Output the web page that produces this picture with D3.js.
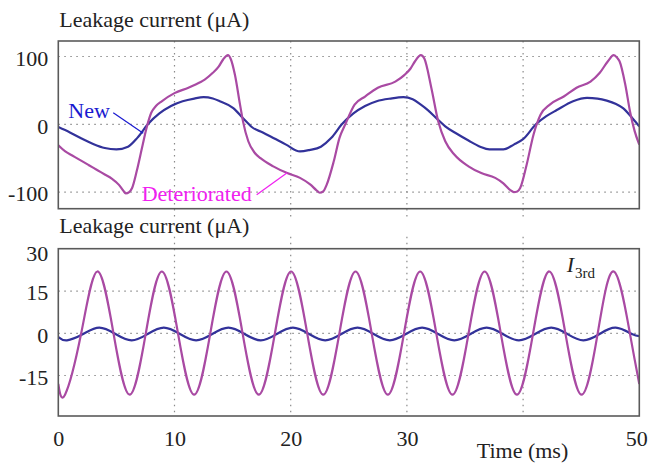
<!DOCTYPE html>
<html>
<head>
<meta charset="utf-8">
<script src="https://cdn.jsdelivr.net/npm/d3@7"></script>
<style>
  body { margin: 0; background: #fff; }
  text { font-family: "Liberation Serif", "Times New Roman", serif; fill: #222; }
</style>
</head>
<body>
<div id="chart"></div>
<script>
// 축 눈금
const timeTicks = [0, 10, 20, 30, 50];
const gridTimes = [10, 20, 30, 40];
const topYTicks = [100, 0, -100];
const bottomYTicks = [30, 15, 0, -15];
const bottomGrid = [15, 0, -15];

// 상단: 누설전류 (New)
const newTime = [0, 1, 2, 3, 4, 5, 6, 6.8, 7.7, 8.7, 9.7, 10.7, 11.7, 12.5, 13.3, 13.9, 15.06, 15.9, 16.3,
  16.65, 17.6, 18.6, 19.6, 20.8, 21.6, 22.6, 23.5, 24.4, 25.4, 26.4, 27.4, 28.6, 29.7, 30.5, 31.2, 31.8, 32.6,
  33.3, 34.3, 35.3, 36.3, 37.1, 38.3, 39.2, 40.0, 41.1, 42.0, 42.9, 44.3, 45.5, 46.4, 47.2, 48.0, 48.6, 49.5, 50];
const newValues = [-4, -12, -21, -29, -35, -37, -33, -20, 0, 16, 27, 34, 38, 40, 38, 34, 24, 9, 2,
  -4, -12, -21, -30, -40, -38, -33, -20, 0, 16, 27, 34, 38, 40, 37, 29, 21, 8,
  -3, -14, -24, -33, -37, -37, -30, -22, 0, 12, 21, 34, 39, 38, 35, 30, 24, 7, -3];

// 상단: 누설전류 (Deteriorated)
const detTime = [0, 0.6, 1.2, 2.0, 2.6, 3.3, 4.0, 4.6, 5.2, 5.6, 5.8, 6.1, 6.35, 6.75, 7.2, 7.6, 8.0, 8.4, 8.9,
  10.0, 11.2, 12.2, 12.6, 13.3, 13.8, 14.2, 14.6, 14.85, 15.2, 15.64, 15.9, 16.35, 16.9, 17.4, 18.5, 19.7,
  20.8, 21.7, 22.2, 22.5, 22.8, 23.1, 23.7, 24.2, 24.7, 25.5, 26.4, 27.5, 29.0, 29.8, 30.3, 30.7, 31.2, 31.5,
  32.1, 32.7, 33.3, 34.1, 35.3, 36.4, 37.6, 38.3, 38.9, 39.2, 39.5, 39.75, 40.3, 40.9, 41.5, 42.3, 43.5,
  44.6, 45.8, 46.6, 47.3, 47.8, 48.1, 48.3, 48.8, 49.2, 49.6, 50];
const detValues = [-31, -40, -46, -54, -60, -67, -74, -80, -89, -98, -102, -100, -94, -69, -35, -5, 17, 27, 34,
  46, 54, 62, 66, 76, 85, 96, 102, 96, 73, 29, 4, -25, -42, -50, -62, -72,
  -79, -89, -97, -101, -99, -89, -55, -20, 0, 29, 41, 54, 63, 73, 82, 93, 102, 97,
  54, 4, -25, -45, -62, -72, -79, -87, -97, -100, -99, -94, -60, -15, 14, 29, 41,
  54, 63, 76, 93, 102, 98, 93, 58, 19, -10, -30];

// 하단: 3고조파 성분 (New)
const new3rdTime = [0, 0.75, 2.14, 3.53, 4.92, 6.31, 7.69, 9.08, 10.47, 11.86, 13.25, 14.64, 16.03, 17.42,
  18.80, 20.19, 21.58, 22.97, 24.36, 25.75, 27.14, 28.53, 29.92, 31.31, 32.69, 34.08, 35.47, 36.86, 38.25,
  39.64, 41.03, 42.42, 43.81, 45.19, 46.58, 47.97, 49.36, 50];
const new3rdValues = [-1.3, -2.5, -0.25, 2.0, -0.25, -2.5, -0.25, 2.0, -0.25, -2.5, -0.25, 2.0, -0.25, -2.5,
  -0.25, 2.0, -0.25, -2.5, -0.25, 2.0, -0.25, -2.5, -0.25, 2.0, -0.25, -2.5, -0.25, 2.0, -0.25,
  -2.5, -0.25, 2.0, -0.25, -2.5, -0.25, 2.0, -0.25, -1.0];

// 하단: 3고조파 성분 (Deteriorated)
const det3rdTime = [0, 0.58, 1.97, 3.36, 4.75, 6.14, 7.53, 8.91, 10.30, 11.69, 13.08, 14.47, 15.86, 17.25,
  18.64, 20.03, 21.42, 22.80, 24.19, 25.58, 26.97, 28.36, 29.75, 31.14, 32.53, 33.92, 35.31, 36.69, 38.08,
  39.47, 40.86, 42.25, 43.64, 45.03, 46.42, 47.80, 49.19, 50];
const det3rdValues = [-18, -21.8, 0, 22, 0, -21.8, 0, 22, 0, -21.8, 0, 22, 0, -21.8,
  0, 22, 0, -21.8, 0, 22, 0, -21.8, 0, 22, 0, -21.8, 0, 22, 0,
  -21.8, 0, 22, 0, -21.8, 0, 22, 0, -18];

const colorNew = "#32329a";
const colorDet = "#a94aa3";

const width = 649;
const height = 466;
const fontSize = 22;

const svg = d3.select("#chart")
  .append("svg")
  .attr("width", width)
  .attr("height", height);

const x = d3.scaleLinear().domain([0, 50]).range([58.3, 639.3]);
const yTop = d3.scaleLinear().domain([-124.5, 122.9]).range([208.7, 41]);
const yBot = d3.scaleLinear().domain([-29.4, 30.1]).range([416, 248.7]);

// 패널 그리기 함수
function drawPanel(id, y, hTicks, gridVals, series, gridExt) {
  const [y0, y1] = y.range();
  const g = svg.append("g");

  svg.append("clipPath").attr("id", id)
    .append("rect")
    .attr("x", x(0)).attr("y", y1)
    .attr("width", x(50) - x(0)).attr("height", y0 - y1);

  // 점선 격자
  g.selectAll(".hgrid").data(gridVals).enter().append("line")
    .attr("x1", x(0)).attr("x2", x(50))
    .attr("y1", d => y(d)).attr("y2", d => y(d))
    .attr("stroke", "#8a8a8a").attr("stroke-width", 1.2)
    .attr("stroke-dasharray", "1.5,4.5");
  g.selectAll(".vgrid").data(gridTimes).enter().append("line")
    .attr("x1", d => x(d)).attr("x2", d => x(d))
    .attr("y1", y1 + gridExt[0]).attr("y2", y0 + gridExt[1])
    .attr("stroke", "#8a8a8a").attr("stroke-width", 1.2)
    .attr("stroke-dasharray", "1.5,4.5");

  // 곡선
  series.forEach(s => {
    const pts = s.t.map((t, i) => [t, s.v[i]]);
    g.append("path")
      .datum(pts)
      .attr("clip-path", `url(#${id})`)
      .attr("fill", "none")
      .attr("stroke", s.color)
      .attr("stroke-width", s.width)
      .attr("stroke-linejoin", "round")
      .attr("d", d3.line().x(d => x(d[0])).y(d => y(d[1])).curve(s.curve));
  });

  // 테두리
  g.append("rect")
    .attr("x", x(0)).attr("y", y1)
    .attr("width", x(50) - x(0)).attr("height", y0 - y1)
    .attr("fill", "none").attr("stroke", "#5a5a5a").attr("stroke-width", 1.6);

  // y축 (하이픈 마이너스 사용)
  const axis = g.append("g")
    .attr("transform", `translate(${x(0)},0)`)
    .call(d3.axisLeft(y).tickValues(hTicks).tickSize(0).tickPadding(10).tickFormat(d => String(d)));
  axis.select(".domain").remove();
  axis.selectAll("text")
    .attr("font-size", fontSize)
    .attr("font-family", null)
    .attr("fill", "#222")
    .attr("dy", "0.4em");
  return axis;
}

drawPanel("clipTop", yTop, topYTicks, topYTicks, [
  { t: newTime, v: newValues, color: colorNew, width: 2.2, curve: d3.curveMonotoneX },
  { t: detTime, v: detValues, color: colorDet, width: 2.2, curve: d3.curveMonotoneX }
], [0, 12]);

const botAxis = drawPanel("clipBot", yBot, bottomYTicks, bottomGrid, [
  { t: new3rdTime, v: new3rdValues, color: colorNew, width: 2.2, curve: d3.curveNatural },
  { t: det3rdTime, v: det3rdValues, color: colorDet, width: 2.2, curve: d3.curveNatural }
], [-12, 0]);
botAxis.selectAll("text").filter(d => d === 30).attr("dy", "0.52em");

// x축
const xAxis = svg.append("g")
  .attr("transform", `translate(0,${yBot.range()[0]})`)
  .call(d3.axisBottom(x).tickValues(timeTicks).tickSize(0).tickPadding(14));
xAxis.select(".domain").remove();
xAxis.selectAll("text")
  .attr("font-size", fontSize)
  .attr("font-family", null)
  .attr("fill", "#222");
// 오른쪽 끝 눈금 글자는 화면 안쪽으로
xAxis.selectAll("text").filter(d => d === 50)
  .attr("text-anchor", "end")
  .attr("dx", 8);

svg.append("text")
  .attr("x", x(39.95)).attr("y", 458)
  .attr("text-anchor", "middle")
  .attr("font-size", fontSize)
  .text("Time (ms)");

// 패널 제목
svg.append("text").attr("x", x(0) + 1).attr("y", 26.5)
  .attr("font-size", fontSize).text("Leakage current (μA)");
svg.append("text").attr("x", x(0) + 1).attr("y", 233)
  .attr("font-size", fontSize).text("Leakage current (μA)");

// 범례 주석
svg.append("line")
  .attr("x1", x(4.73)).attr("y1", yTop(17.1))
  .attr("x2", x(7.31)).attr("y2", yTop(-13.3))
  .attr("stroke", "#1a1ad0").attr("stroke-width", 1.2);
svg.append("text")
  .attr("x", x(0.86)).attr("y", yTop(9.3))
  .attr("font-size", fontSize)
  .style("fill", "#1a1ad0")
  .text("New");

svg.append("line")
  .attr("x1", x(17.07)).attr("y1", yTop(-104))
  .attr("x2", x(19.7)).attr("y2", yTop(-71.4))
  .attr("stroke", "#f020f0").attr("stroke-width", 1.2);
svg.append("text")
  .attr("x", x(7.18)).attr("y", yTop(-113))
  .attr("font-size", fontSize)
  .style("fill", "#f020f0")
  .text("Deteriorated");

// I_3rd 표시
const lab = svg.append("text")
  .attr("x", x(43.75)).attr("y", yBot(21.9))
  .attr("font-size", fontSize);
lab.append("tspan").attr("font-style", "italic").text("I");
lab.append("tspan").attr("font-size", 15).attr("dx", 1).attr("dy", 6).text("3rd");
</script>
</body>
</html>
